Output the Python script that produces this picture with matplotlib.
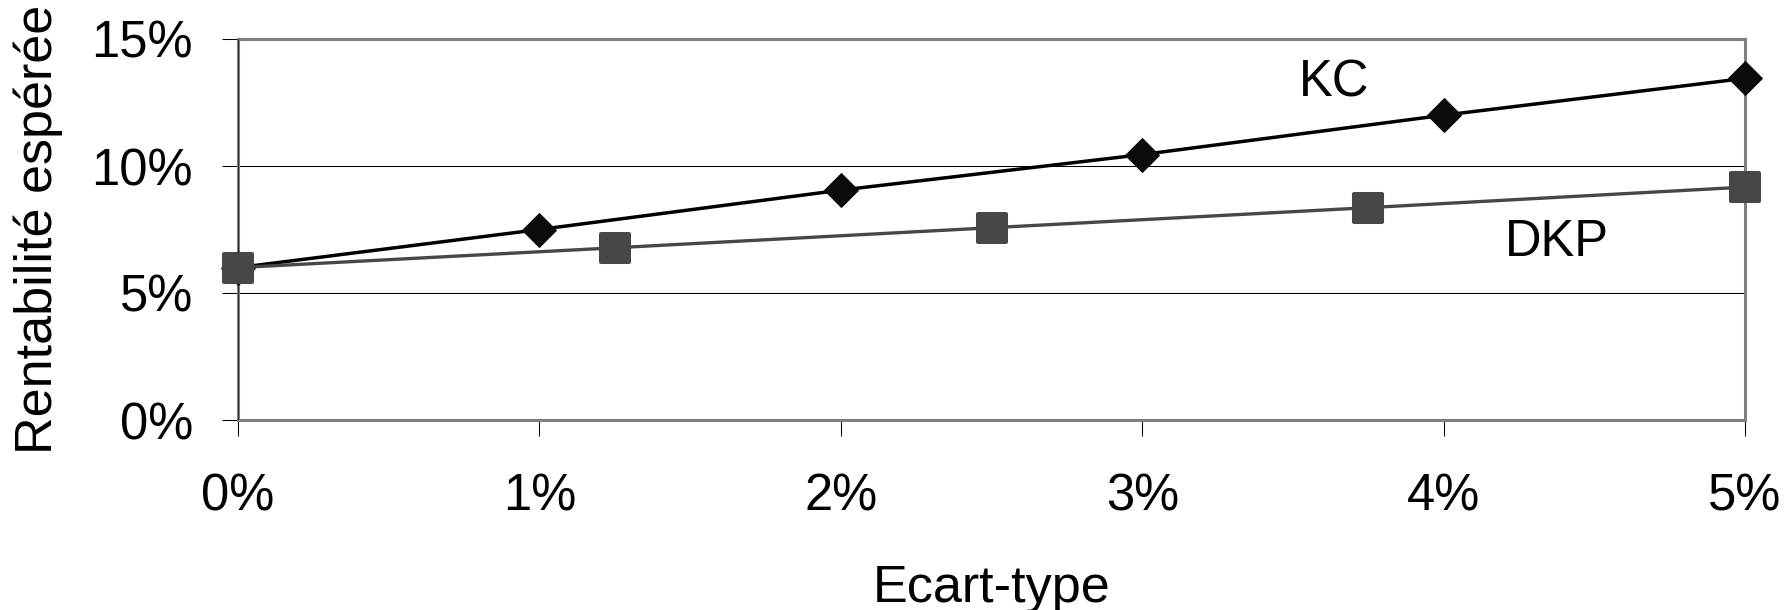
import matplotlib
matplotlib.use('Agg')
import matplotlib.pyplot as plt
from matplotlib.markers import MarkerStyle

plt.rcParams['font.family'] = ['Liberation Sans', 'DejaVu Sans']

# données (en %)
kc_x = [0, 1, 2, 3, 4, 5]
kc_y = [6.0, 7.5, 9.05, 10.45, 12.0, 13.45]
dkp_x = [0, 1.25, 2.5, 3.75, 5]
dkp_y = [6.0, 6.78, 7.57, 8.36, 9.17]

x_ticks = [0, 1, 2, 3, 4, 5]
x_labels = ['0%', '1%', '2%', '3%', '4%', '5%']
y_ticks = [0, 5, 10, 15]
y_labels = ['0%', '5%', '10%', '15%']

fig = plt.figure(figsize=(17.85, 6.1), dpi=100)
ax = fig.add_axes([238 / 1785, 1 - 420 / 610, 1507 / 1785, 381 / 610])

# courbes
ax.plot(kc_x, kc_y, color='black', lw=2.5, marker='D', ms=17.8,
        mfc='#0a0a0a', mec='#0a0a0a', mew=0.7, clip_on=False, zorder=3)
ax.plot(dkp_x, dkp_y, color='#474747', lw=2.4,
        marker=MarkerStyle('s', joinstyle='round'), ms=19.6,
        mfc='#474747', mec='#474747', mew=2.9, clip_on=False, zorder=4)

ax.text(3.52, 12.73, 'KC', fontsize=36.5, ha='left', va='baseline')
ax.text(4.204, 6.47, 'DKP', fontsize=36.5, ha='left', va='baseline')

ax.set_xlim(0, 5)
ax.set_ylim(0, 15)
ax.set_xticks(x_ticks)
ax.set_xticklabels(x_labels)
ax.set_yticks(y_ticks)
ax.set_yticklabels(y_labels)

ax.tick_params(axis='both', direction='out', length=11.5, width=0.75,
               color='black', labelsize=36.5)
ax.tick_params(axis='y', pad=21)
ax.tick_params(axis='x', pad=26)

ax.yaxis.grid(True, color='black', lw=0.75)
ax.set_axisbelow(True)

for s in ax.spines.values():
    s.set_color('#808080')
    s.set_linewidth(2.2)
# ligne d'axe sombre par-dessus le cadre
ax.axvline(0, color='#303030', lw=0.8, zorder=2.6)
ax.axhline(0, color='#303030', lw=0.8, zorder=2.6)

ax.set_xlabel('Ecart-type', fontsize=37.5)
ax.xaxis.set_label_coords(0.5, -0.378)
ax.set_ylabel('Rentabilité espérée', fontsize=37.5)
ax.yaxis.set_label_coords(-0.1161, 0.5)

fig.savefig('out.png', dpi=100)
